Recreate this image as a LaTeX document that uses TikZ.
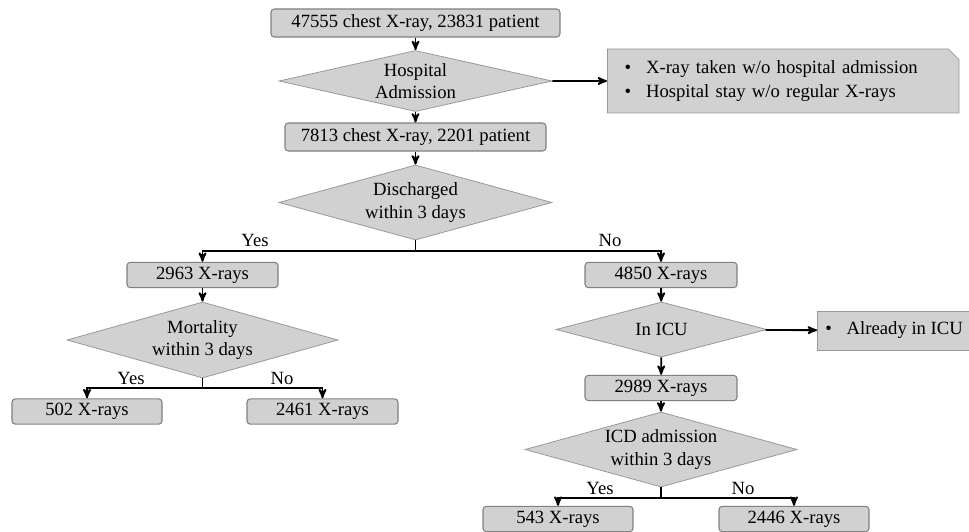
\documentclass[tikz,border=0pt]{standalone}
\usepackage{fontspec}
\setmainfont{Liberation Serif}
\usetikzlibrary{arrows}
\usetikzlibrary{positioning}
\usetikzlibrary{shapes.geometric,shapes.misc}

\begin{document}
\begin{tikzpicture}[x=0.75pt,y=-0.75pt,->,>=stealth',line width=1.4pt,
                    box node/.style={rectangle,rounded corners=2.5pt,draw=black!50,line width=0.8pt,fill=black!18,
                                     minimum height=19pt,inner sep=1pt,font=\fontsize{14}{17}\selectfont},
                    decision node/.style={diamond,draw=black!40,line width=0.6pt,fill=black!18,inner sep=0pt,
                                          align=center,font=\fontsize{14}{17}\selectfont},
                    note node/.style={rectangle,draw=black!40,line width=0.6pt,fill=black!18,anchor=west,
                                      align=left,font=\fontsize{14}{18}\selectfont},
                    label node/.style={font=\fontsize{14}{17}\selectfont}]

  \useasboundingbox (0,0) rectangle (969,531);

  \node[box node,minimum width=216.75pt,minimum height=21pt](1) at (415.5,23) {47555 chest X-ray, 23831 patient};
  \node[decision node,shape aspect=4.47,minimum width=204.75pt,minimum height=45.75pt](2) at (415.5,81) {Hospital\\Admission};
  \node[box node,minimum width=195.75pt,minimum height=21pt](3) at (415.5,137) {7813 chest X-ray, 2201 patient};
  \node[decision node,shape aspect=3.64,minimum width=204.75pt,minimum height=56.25pt](4) at (415.5,202.5) {Discharged\\within 3 days};
  \node[box node,minimum width=113.25pt](5) at (202.5,275) {2963 X-rays};
  \node[box node,minimum width=114pt](6) at (661,275) {4850 X-rays};
  \node[decision node,shape aspect=3.57,minimum width=203.25pt,minimum height=57pt](7) at (202.5,340) {Mortality\\within 3 days};
  \node[box node,minimum width=112.5pt](8) at (87,411.5) {502 X-rays};
  \node[box node,minimum width=113.25pt](9) at (322.5,411.5) {2461 X-rays};
  \node[decision node,shape aspect=3.84,minimum width=158.25pt,minimum height=41.25pt](10) at (661.5,329.5) {In ICU};
  \node[box node,minimum width=114pt](11) at (661,388) {2989 X-rays};
  \node[decision node,shape aspect=3.63,minimum width=204pt,minimum height=56.25pt](12) at (661,449.5) {ICD admission\\within 3 days};
  \node[box node,minimum width=112.5pt](13) at (558,519) {543 X-rays};
  \node[box node,minimum width=112.5pt](14) at (794,519) {2446 X-rays};

  \node[note node,chamfered rectangle,chamfered rectangle corners=north east,chamfered rectangle sep=4pt,
        text width=237.75pt,inner xsep=9pt,minimum height=48pt](15) at (607,81)
        {\makebox[16pt][l]{\textbullet}X-ray taken w/o hospital admission\\
         \makebox[16pt][l]{\textbullet}Hospital stay w/o regular X-rays};
  \node[note node,inner xsep=6pt,minimum height=29.25pt](16) at (817,330.5)
        {\makebox[16pt][l]{\textbullet}Already in ICU};

  \coordinate (4b) at (415.5,251);
  \coordinate (7b) at (202.5,388);
  \coordinate (12b) at (661,498);

  \node[label node](yes1) at (255,240) {Yes};
  \node[label node](no1) at (610,240) {No};
  \node[label node](yes2) at (131,378) {Yes};
  \node[label node](no2) at (282,378) {No};
  \node[label node](yes3) at (600,488) {Yes};
  \node[label node](no3) at (743,488) {No};

  \path
    (1) edge (2)
    (2) edge (3)
    (3) edge (4)
    (2) edge (15)
    (5) edge (7)
    (6) edge (10)
    (10) edge (11)
    (10) edge (16)
    (11) edge (12);

  \draw[-] (4) -- (4b);
  \draw (4b) -| (5);
  \draw (4b) -| (6);
  \draw[-] (7) -- (7b);
  \draw (7b) -| (8);
  \draw (7b) -| (9);
  \draw[-] (12) -- (12b);
  \draw (12b) -| (13);
  \draw (12b) -| (14);
\end{tikzpicture}
\end{document}
